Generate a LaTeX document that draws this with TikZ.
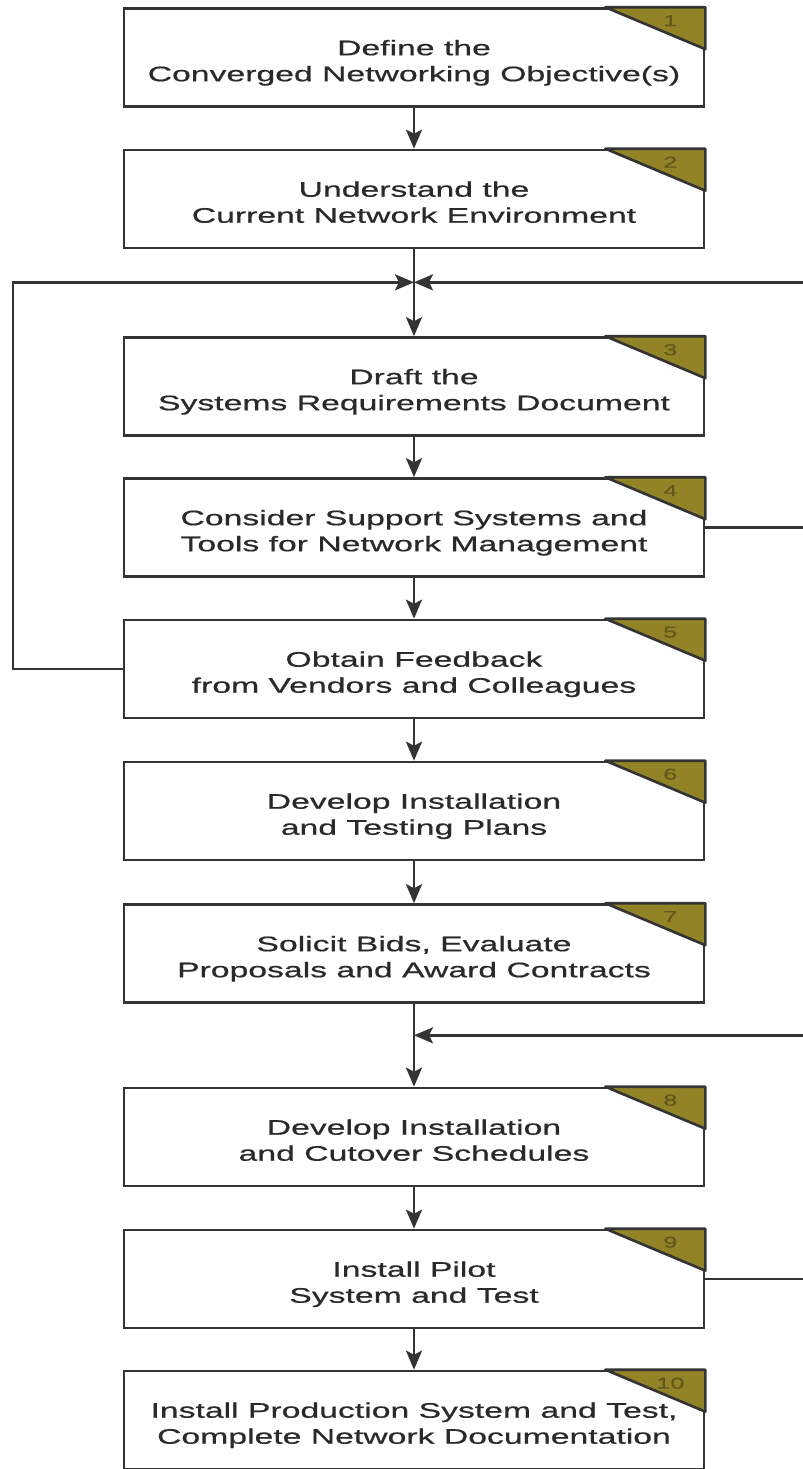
\documentclass[tikz,border=0pt]{standalone}
\usepackage{fontspec}
\newfontfamily\boxfont{Liberation Sans}[FakeStretch=1.6, FakeBold=0.6]
\usepackage{tikz}
\usetikzlibrary{calc, arrows.meta}

\definecolor{linegray}{RGB}{52,52,52}
\definecolor{textgray}{RGB}{42,42,42}
\definecolor{tabfill}{RGB}{146,132,38}
\definecolor{tabtext}{RGB}{98,88,28}

\begin{document}
\begin{tikzpicture}
            \pgfmathsetmacro{\bx}{8.28}
            \pgfmathsetmacro{\bw}{11.6}
            \pgfmathsetmacro{\bh}{1.96}
            \tikzstyle{stepbox}=[draw=linegray, line width=1.5pt, fill=white, minimum width=\bw cm, minimum height=\bh cm, align=center, text=textgray, text height=27pt, text depth=0pt, font=\boxfont\fontsize{12}{14.8}\selectfont]
            \tikzstyle{flow}=[draw=linegray, line width=1.4pt, -{Stealth[length=0.38cm, width=0.32cm, inset=0.08cm]}]
            \tikzstyle{tab}=[fill=tabfill, draw=linegray, line width=1.5pt, line join=round]
            \tikzstyle{tabnum}=[text=tabtext, inner sep=0pt, font=\boxfont\fontsize{9}{10}\selectfont]

            \useasboundingbox (0,0) rectangle (16.06,-29.38);
            \clip (0,0) rectangle (16.06,-29.38);

            %%%%%%%%%%%%%%%%%%%%%%%%%%%%%%%%%%%%%%%%
            \node at (\bx, -1.15) (b1) [stepbox] {Define the\\Converged Networking Objective(s)};
            \node at (\bx, -3.98) (b2) [stepbox] {Understand the\\Current Network Environment};
            \node at (\bx, -7.73) (b3) [stepbox] {Draft the\\Systems Requirements Document};
            \node at (\bx, -10.55) (b4) [stepbox] {Consider Support Systems and\\Tools for Network Management};
            \node at (\bx, -13.38) (b5) [stepbox] {Obtain Feedback\\from Vendors and Colleagues};
            \node at (\bx, -16.22) (b6) [stepbox] {Develop Installation\\and Testing Plans};
            \node at (\bx, -19.07) (b7) [stepbox] {Solicit Bids, Evaluate\\Proposals and Award Contracts};
            \node at (\bx, -22.74) (b8) [stepbox] {Develop Installation\\and Cutover Schedules};
            \node at (\bx, -25.58) (b9) [stepbox] {Install Pilot\\System and Test};
            \node at (\bx, -28.40) (b10) [stepbox] {Install Production System and Test,\\Complete Network Documentation};

            % numbered corner tabs
            \foreach \n in {1,...,10} {
                \filldraw[tab] ([xshift=-2cm]b\n.north east) -- (b\n.north east) -- ([yshift=-0.84cm]b\n.north east) -- cycle;
                \node[tabnum] (t\n) at ([xshift=-0.7cm, yshift=-0.27cm]b\n.north east) {\n};
            }

            %%%%%%%%%%%%%%%%%%%%%%%%%%%%%%%%%%%%%%%%
            \coordinate (m1) at ($(b2.south)!0.38!(b3.north)$);
            \coordinate (m2) at ($(b7.south)!0.38!(b8.north)$);
            \coordinate (lft) at (0.26, 0);
            \coordinate (rgt) at (16.3, 0);

            \draw[flow] (b1) -- (b2);
            \draw[flow] (b2) -- (b3);
            \draw[flow] (b3) -- (b4);
            \draw[flow] (b4) -- (b5);
            \draw[flow] (b5) -- (b6);
            \draw[flow] (b6) -- (b7);
            \draw[flow] (b7) -- (b8);
            \draw[flow] (b8) -- (b9);
            \draw[flow] (b9) -- (b10);

            % feedback loops
            \draw[flow] (b5.west) -| (lft |- m1) -- (m1);
            \draw[flow] (b4.east) -| (rgt |- m1) -- (m1);
            \draw[flow] (b9.east) -| (rgt |- m2) -- (m2);
        \end{tikzpicture}
\end{document}
